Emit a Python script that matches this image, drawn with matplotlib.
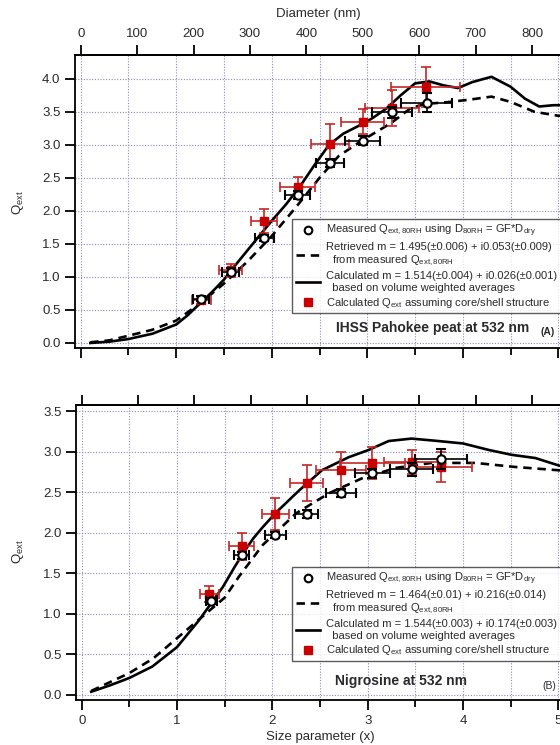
import numpy as np
import matplotlib.pyplot as plt
from matplotlib.lines import Line2D
from matplotlib.ticker import MultipleLocator

plt.rcParams['font.family'] = ['Liberation Sans', 'DejaVu Sans']
plt.rcParams['mathtext.fontset'] = 'custom'
plt.rcParams['mathtext.rm'] = 'Liberation Sans'
plt.rcParams['mathtext.it'] = 'Liberation Sans:italic'
plt.rcParams['mathtext.bf'] = 'Liberation Sans:bold'

WAVELENGTH = 532  # nm

# ---- panel A: IHSS Pahokee peat ----
a_x_meas = [1.26, 1.57, 1.92, 2.27, 2.61, 2.95, 3.26, 3.62]
a_q_meas = [0.67, 1.08, 1.59, 2.24, 2.73, 3.06, 3.49, 3.64]
a_xerr_meas = [0.08, 0.09, 0.10, 0.13, 0.15, 0.18, 0.21, 0.27]
a_qerr_meas = [0.04, 0.05, 0.05, 0.06, 0.06, 0.07, 0.08, 0.14]

a_x_cs = [1.26, 1.57, 1.92, 2.27, 2.61, 2.95, 3.26, 3.61]
a_q_cs = [0.65, 1.10, 1.85, 2.36, 3.02, 3.35, 3.56, 3.88]
a_xerr_cs = [0.10, 0.12, 0.14, 0.18, 0.20, 0.23, 0.28, 0.36]
a_qerr_cs = [0.06, 0.10, 0.18, 0.15, 0.30, 0.19, 0.27, 0.30]

a_x_calc = [0.1, 0.3, 0.5, 0.75, 1.0, 1.12, 1.25, 1.38, 1.5, 1.62, 1.75, 1.88, 2.0,
            2.15, 2.3, 2.45, 2.6, 2.75, 2.9, 3.05, 3.2, 3.35, 3.5, 3.65, 3.8, 3.95,
            4.1, 4.3, 4.5, 4.65, 4.8, 4.95, 5.1]
a_q_calc = [0.0, 0.02, 0.06, 0.14, 0.28, 0.42, 0.60, 0.78, 0.96, 1.18, 1.41, 1.64, 1.85,
            2.10, 2.38, 2.70, 3.00, 3.17, 3.28, 3.40, 3.55, 3.75, 3.93, 3.96, 3.90, 3.86,
            3.95, 4.03, 3.88, 3.70, 3.58, 3.60, 3.60]

a_x_retr = [0.1, 0.3, 0.5, 0.75, 1.0, 1.25, 1.5, 1.75, 2.0, 2.25, 2.5, 2.7, 2.95,
            3.25, 3.45, 3.6, 3.8, 4.05, 4.3, 4.5, 4.75, 5.0, 5.1]
a_q_retr = [0.01, 0.04, 0.11, 0.20, 0.34, 0.60, 0.90, 1.24, 1.62, 2.05, 2.50, 2.83,
            3.07, 3.33, 3.55, 3.62, 3.64, 3.68, 3.73, 3.65, 3.50, 3.44, 3.44]

# ---- panel B: Nigrosine ----
b_x_meas = [1.36, 1.68, 2.03, 2.36, 2.72, 3.05, 3.46, 3.77]
b_q_meas = [1.16, 1.72, 1.97, 2.23, 2.49, 2.73, 2.78, 2.91]
b_xerr_meas = [0.06, 0.08, 0.11, 0.12, 0.16, 0.18, 0.23, 0.27]
b_qerr_meas = [0.04, 0.04, 0.04, 0.05, 0.05, 0.06, 0.08, 0.12]

b_x_cs = [1.34, 1.68, 2.03, 2.36, 2.72, 3.05, 3.46, 3.77]
b_q_cs = [1.24, 1.83, 2.23, 2.61, 2.77, 2.86, 2.87, 2.81]
b_xerr_cs = [0.10, 0.13, 0.14, 0.17, 0.26, 0.34, 0.29, 0.32]
b_qerr_cs = [0.10, 0.17, 0.20, 0.22, 0.23, 0.20, 0.15, 0.18]

b_x_calc = [0.1, 0.3, 0.5, 0.74, 1.0, 1.23, 1.48, 1.6, 1.7, 1.8, 1.9, 2.04, 2.28, 2.52,
            2.8, 3.01, 3.22, 3.46, 3.74, 4.0, 4.27, 4.51, 4.76, 5.0, 5.1]
b_q_calc = [0.04, 0.12, 0.21, 0.35, 0.59, 0.92, 1.33, 1.57, 1.76, 1.93, 2.07, 2.25, 2.52,
            2.77, 2.93, 3.02, 3.13, 3.16, 3.13, 3.10, 3.02, 2.96, 2.92, 2.83, 2.80]

b_x_retr = [0.1, 0.3, 0.5, 0.75, 1.0, 1.25, 1.5, 1.65, 1.9, 2.25, 2.6, 2.94, 3.3,
            3.67, 4.13, 4.55, 5.0, 5.1]
b_q_retr = [0.05, 0.16, 0.27, 0.45, 0.70, 0.95, 1.20, 1.46, 1.85, 2.24, 2.49, 2.67, 2.80,
            2.86, 2.86, 2.81, 2.77, 2.76]

a_labels = [
    r"Measured Q$_{\mathrm{ext,80RH}}$ using D$_{\mathrm{80RH}}$ = GF*D$_{\mathrm{dry}}$",
    "Retrieved m = 1.495(\u00b10.006) + i0.053(\u00b10.009)\n"
    r"  from measured Q$_{\mathrm{ext,80RH}}$",
    "Calculated m = 1.514(\u00b10.004) + i0.026(\u00b10.001)\n"
    "  based on volume weighted averages",
    r"Calculated Q$_{\mathrm{ext}}$ assuming core/shell structure",
]
b_labels = [
    r"Measured Q$_{\mathrm{ext,80RH}}$ using D$_{\mathrm{80RH}}$ = GF*D$_{\mathrm{dry}}$",
    "Retrieved m = 1.464(\u00b10.01) + i0.216(\u00b10.014)\n"
    r"  from measured Q$_{\mathrm{ext,80RH}}$",
    "Calculated m = 1.544(\u00b10.003) + i0.174(\u00b10.003)\n"
    "  based on volume weighted averages",
    r"Calculated Q$_{\mathrm{ext}}$ assuming core/shell structure",
]

RED = "#c80000"
RED_BAR = "#c42828"
GRID = "#8c8cc0"
TXT = "#2a2a2a"

W, H = 560, 745
fig = plt.figure(figsize=(W / 100, H / 100), dpi=100)


def px_axes(left, top, right, bottom):
    return fig.add_axes([left / W, 1 - bottom / H, (right - left) / W, (bottom - top) / H])


def to_diam(x):
    return x * WAVELENGTH / np.pi


def to_size(d):
    return d * np.pi / WAVELENGTH


def draw_panel(ax, d, labels, ylim, yticks, title, tag, tag_bold, leg_anchor):
    (xm, qm, xem, qem, xc, qc, xec, qec, xcal, qcal, xret, qret) = d
    ax.plot(xret, qret, color="black", lw=1.9, ls=(0, (3.2, 2.2)), zorder=3)
    ax.plot(xcal, qcal, color="black", lw=1.9, zorder=3)
    ax.errorbar(xc, qc, xerr=xec, yerr=qec, fmt="s", ms=6, mfc=RED, mec=RED,
                ecolor=RED_BAR, elinewidth=1.2, capsize=3.5, capthick=1.2, zorder=4)
    ax.errorbar(xm, qm, xerr=xem, yerr=qem, fmt="o", ms=6, mfc="white", mec="black",
                mew=1.5, ecolor="black", elinewidth=1.2, capsize=3.5, capthick=1.2, zorder=5)

    ax.set_xlim(-0.06, 5.07)
    ax.set_ylim(*ylim)
    ax.set_yticks(yticks)
    ax.yaxis.set_major_formatter(plt.FormatStrFormatter("%.1f"))
    ax.xaxis.set_major_locator(MultipleLocator(1))
    ax.xaxis.set_minor_locator(MultipleLocator(0.5))
    ax.grid(True, which="both", color=GRID, ls=(0, (1, 1.5)), lw=0.8)
    ax.set_axisbelow(True)
    for s in ax.spines.values():
        s.set_linewidth(1.3)
    ax.tick_params(axis="both", which="major", direction="out", length=7, width=1.3,
                   labelsize=9.5, labelcolor=TXT, top=False, right=False)
    ax.tick_params(axis="x", which="minor", direction="out", length=5, width=1.3)

    sec = ax.secondary_xaxis("top", functions=(to_diam, to_size))
    sec.set_xticks(np.arange(0, 900, 100))
    sec.tick_params(direction="out", length=7, width=1.3, labelsize=9.5, labelcolor=TXT)
    sec.spines["top"].set_linewidth(1.3)

    handles = [
        Line2D([], [], ls="none", marker="o", ms=5.5, mfc="white", mec="black", mew=1.5),
        Line2D([], [], color="black", lw=1.9, ls=(0, (3.2, 2.2))),
        Line2D([], [], color="black", lw=1.9),
        Line2D([], [], ls="none", marker="s", ms=6, mfc=RED, mec=RED),
    ]
    leg = ax.legend(handles, labels, loc="upper left", bbox_to_anchor=leg_anchor,
                    fontsize=8, frameon=True, fancybox=False, handlelength=2.2,
                    handletextpad=0.5, labelspacing=0.25, borderpad=0.35,
                    borderaxespad=0)
    leg.get_frame().set_edgecolor("#333333")
    leg.get_frame().set_linewidth(1.0)
    for t in leg.get_texts():
        t.set_color(TXT)

    ax.text(title[1], title[2], title[0], transform=ax.transAxes, ha="center",
            va="center", fontsize=10, fontweight="bold", color=TXT)
    ax.text(tag[1], tag[2], tag[0], transform=ax.transAxes, ha="center", va="center",
            fontsize=7.5, fontweight="bold" if tag_bold else "normal", color=TXT)
    return sec


ax1 = px_axes(75, 55, 565, 348)
sec1 = draw_panel(ax1,
                  (a_x_meas, a_q_meas, a_xerr_meas, a_qerr_meas,
                   a_x_cs, a_q_cs, a_xerr_cs, a_qerr_cs,
                   a_x_calc, a_q_calc, a_x_retr, a_q_retr),
                  a_labels, (-0.076, 4.36), np.arange(0, 4.01, 0.5),
                  ("IHSS Pahokee peat at 532 nm", 0.729, 0.068), ("(A)", 0.965, 0.055), True,
                  (0.443, 0.44))
ax1.tick_params(axis="x", which="both", labelbottom=False)

ax2 = px_axes(76, 405, 565, 700)
sec2 = draw_panel(ax2,
                  (b_x_meas, b_q_meas, b_xerr_meas, b_qerr_meas,
                   b_x_cs, b_q_cs, b_xerr_cs, b_qerr_cs,
                   b_x_calc, b_q_calc, b_x_retr, b_q_retr),
                  b_labels, (-0.062, 3.574), np.arange(0, 3.51, 0.5),
                  ("Nigrosine at 532 nm", 0.665, 0.064), ("(B)", 0.967, 0.047), False,
                  (0.442, 0.451))
sec2.set_xticklabels([])

fig.text(318 / W, 1 - 14 / H, "Diameter (nm)", ha="center", va="center", fontsize=9.5, color=TXT)
fig.text(320 / W, 1 - 737 / H, "Size parameter (x)", ha="center", va="center", fontsize=9.5, color=TXT)
fig.text(18 / W, 1 - 203 / H, r"Q$_{\mathrm{ext}}$", rotation=90, ha="center", va="center",
         fontsize=9.5, color=TXT)
fig.text(18 / W, 1 - 552 / H, r"Q$_{\mathrm{ext}}$", rotation=90, ha="center", va="center",
         fontsize=9.5, color=TXT)

fig.savefig("out.png", dpi=100)
